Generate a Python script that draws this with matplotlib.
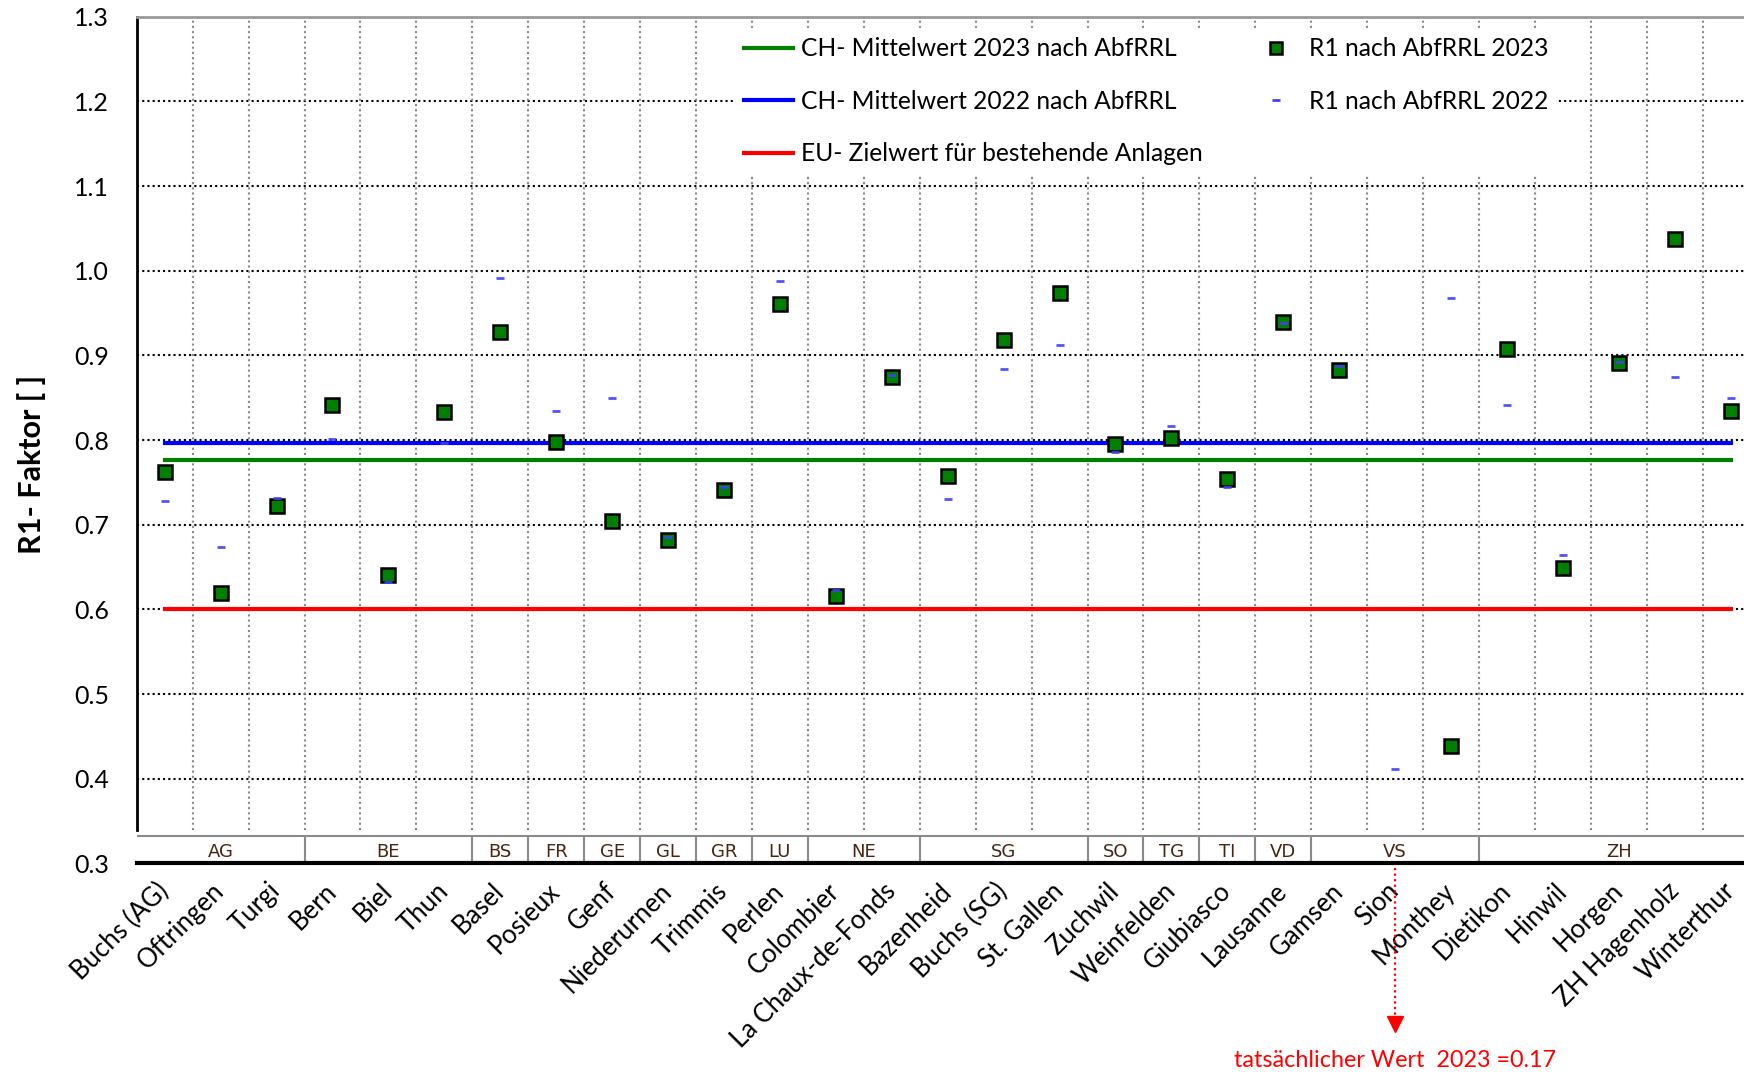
import numpy as np
import matplotlib.pyplot as plt
from matplotlib.lines import Line2D
from matplotlib.transforms import blended_transform_factory

plt.rcParams['font.family'] = ['Lato', 'DejaVu Sans']

plants = ["Buchs (AG)", "Oftringen", "Turgi", "Bern", "Biel", "Thun", "Basel",
          "Posieux", "Genf", "Niederurnen", "Trimmis", "Perlen", "Colombier",
          "La Chaux-de-Fonds", "Bazenheid", "Buchs (SG)", "St. Gallen", "Zuchwil",
          "Weinfelden", "Giubiasco", "Lausanne", "Gamsen", "Sion", "Monthey",
          "Dietikon", "Hinwil", "Horgen", "ZH Hagenholz", "Winterthur"]
cantons = ["AG", "BE", "BS", "FR", "GE", "GL", "GR", "LU", "NE", "SG",
           "SO", "TG", "TI", "VD", "VS", "ZH"]
canton_sizes = [3, 3, 1, 1, 1, 1, 1, 1, 2, 3, 1, 1, 1, 1, 3, 5]

r1_2023 = [0.762, 0.620, 0.722, 0.842, 0.641, 0.833, 0.928, 0.798, 0.705, 0.682,
           0.741, 0.961, 0.616, 0.874, 0.757, 0.918, 0.974, 0.795, 0.803, 0.754,
           0.939, 0.883, 0.17, 0.439, 0.907, 0.649, 0.891, 1.038, 0.834]
r1_2022 = [0.728, 0.674, 0.732, 0.801, 0.632, 0.796, 0.991, 0.834, 0.850, 0.686,
           0.745, 0.988, 0.623, 0.877, 0.730, 0.884, 0.912, 0.786, 0.817, 0.745,
           0.938, 0.887, 0.411, 0.968, 0.841, 0.664, 0.892, 0.874, 0.850]
mean_2023 = 0.776
mean_2022 = 0.797
eu_target = 0.60
sion_actual = 0.17

fig = plt.figure(figsize=(17.44, 10.76), dpi=100)
ax = fig.add_axes([0.0784, 0.1975, 0.930, 0.787])

x = np.arange(len(plants))
ax.set_xlim(-0.5, len(plants) - 0.5)
ax.set_ylim(0.3, 1.3)
yt = np.round(np.arange(0.3, 1.31, 0.1), 1)
ax.set_yticks(yt)
ax.set_yticklabels([f"{v:.1f}" for v in yt], fontsize=18)
ax.tick_params(axis='y', length=0, pad=20)

table_top = 0.333
plot_bottom = 0.339

# grid
ax.hlines(yt[1:-1], -0.5, len(plants) - 0.5, colors='black', linestyles=(0, (1, 1.5)), lw=1.5, zorder=0.5)
ax.vlines(x[:-1] + 0.5, plot_bottom, 1.3, colors='#8a8a8a', linestyles=(0, (1, 1.5)), lw=1.5, zorder=0.5)

ax.spines['right'].set_visible(False)
ax.spines['top'].set_color('#9a9a9a')
ax.spines['top'].set_linewidth(2)
ax.spines['left'].set_bounds(plot_bottom, 1.3)
ax.spines['left'].set_linewidth(2)
ax.spines['bottom'].set_linewidth(3)

# canton table
ax.axhline(table_top, color='#8a8a8a', lw=1.5)
edges = np.concatenate([[0], np.cumsum(canton_sizes)]) - 0.5
ax.vlines(edges[1:-1], 0.3, table_top, colors='#8a8a8a', lw=1.5)
for c, a, b in zip(cantons, edges[:-1], edges[1:]):
    ax.text((a + b) / 2, 0.3 + (table_top - 0.3) * 0.42, c, ha='center', va='center',
            fontsize=13, color='#4a2410', family='DejaVu Sans')

# reference lines
ax.plot([x[0], x[-1]], [mean_2023, mean_2023], color='#008000', lw=3, zorder=2)
ax.plot([x[0], x[-1]], [mean_2022, mean_2022], color='#0000ff', lw=3, zorder=2)
ax.plot([x[0], x[-1]], [eu_target, eu_target], color='#ff0000', lw=3, zorder=2)

ax.plot(x, r1_2023, ls='none', marker='s', ms=10, mfc='#008000', mec='black', mew=1.8, zorder=4)
ax.plot(x, r1_2022, ls='none', marker='_', ms=6, mew=2, color='#3f3fff', zorder=5, alpha=0.9)

ax.set_xticks(x)
ax.set_xticklabels(plants, rotation=45, ha='right', va='center', rotation_mode='anchor', fontsize=18.5)
ax.tick_params(axis='x', length=0, pad=17)

fig.text(0.018, 0.568, "R1- Faktor [ ]", rotation=90, ha='center', va='center',
         fontsize=22, fontweight='bold')

handles = [
    Line2D([], [], color='#008000', lw=3),
    Line2D([], [], color='#0000ff', lw=3),
    Line2D([], [], color='#ff0000', lw=3),
    Line2D([], [], ls='none', marker='s', ms=9, mfc='#008000', mec='black', mew=1.8),
    Line2D([], [], ls='none', marker='_', ms=6, mew=2, color='#3f3fff'),
]
labels = ["CH- Mittelwert 2023 nach AbfRRL", "CH- Mittelwert 2022 nach AbfRRL",
          "EU- Zielwert für bestehende Anlagen", "R1 nach AbfRRL 2023", "R1 nach AbfRRL 2022"]
leg = ax.legend(handles, labels, ncol=2, loc='upper left', bbox_to_anchor=(0.362, 0.999),
                fontsize=17.7, frameon=True, fancybox=False, framealpha=1, edgecolor='white',
                handlelength=2.0, handletextpad=0.35, columnspacing=1.95, labelspacing=1.2,
                borderpad=0.3)

# Sion annotation
tr = blended_transform_factory(ax.transData, ax.transAxes)
sion = plants.index("Sion")
ax.plot([sion, sion], [-0.005, -0.19], transform=tr, color='red', ls=(0, (1, 1.5)), lw=1.6, clip_on=False)
ax.plot([sion], [-0.19], transform=tr, marker='v', ms=11, color='red', clip_on=False)
ax.text(sion, -0.233, f"tatsächlicher Wert  2023 ={sion_actual}", transform=tr, ha='center', va='center',
        color='red', fontsize=16.8)

fig.savefig("out.png", dpi=100)
